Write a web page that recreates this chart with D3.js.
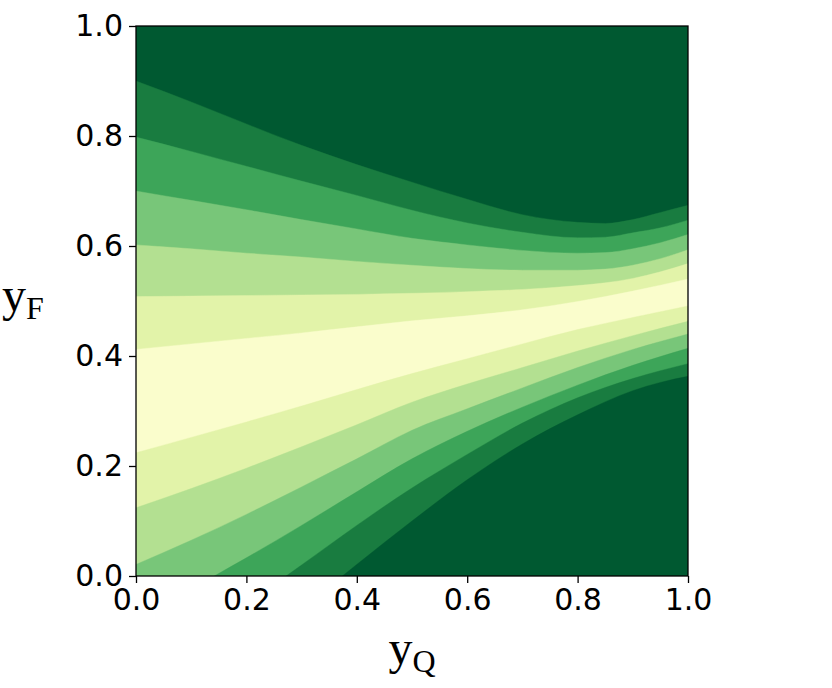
<!DOCTYPE html>
<html><head><meta charset="utf-8">
<script src="https://cdn.jsdelivr.net/npm/d3@7"></script>
<style>body{margin:0;background:#fff}</style>
</head><body>
<script>
// Tick values (both axes)
const tickValues = [0, 0.2, 0.4, 0.6, 0.8, 1.0];
// Band colours from the lightest (centre) to the darkest (YlGn)
const bandColors = ["#fafdcc", "#e2f3a9", "#b3e091", "#78c679", "#3da559", "#197c40", "#005931"];

// Contour boundaries, as [yQ, yF] points.
// Upper side (from top, darkest edge, down to the light centre)
const upperB1 = [[0,0.900],[0.1,0.862],[0.2,0.822],[0.3,0.783],[0.4,0.748],[0.5,0.716],[0.6,0.685],[0.7,0.657],[0.8,0.643],[0.85,0.641],[0.9,0.648],[0.95,0.661],[1.0,0.674]];
const upperB2 = [[0,0.798],[0.1,0.772],[0.2,0.745],[0.3,0.718],[0.4,0.692],[0.5,0.665],[0.6,0.642],[0.7,0.625],[0.8,0.615],[0.85,0.616],[0.9,0.624],[0.95,0.633],[1.0,0.647]];
const upperB3 = [[0,0.700],[0.1,0.683],[0.2,0.666],[0.3,0.648],[0.4,0.631],[0.5,0.614],[0.6,0.602],[0.7,0.592],[0.8,0.587],[0.85,0.588],[0.9,0.595],[0.95,0.606],[1.0,0.621]];
const upperB4 = [[0,0.602],[0.1,0.595],[0.2,0.587],[0.3,0.580],[0.4,0.572],[0.5,0.565],[0.6,0.559],[0.7,0.556],[0.8,0.556],[0.85,0.558],[0.9,0.565],[0.95,0.577],[1.0,0.593]];
const upperB5 = [[0,0.508],[0.1,0.509],[0.2,0.510],[0.3,0.511],[0.4,0.512],[0.5,0.514],[0.6,0.517],[0.7,0.521],[0.8,0.528],[0.85,0.533],[0.9,0.541],[0.95,0.553],[1.0,0.568]];
const upperB6 = [[0,0.412],[0.1,0.422],[0.2,0.432],[0.3,0.442],[0.4,0.453],[0.5,0.464],[0.6,0.473],[0.7,0.484],[0.8,0.499],[0.9,0.518],[1.0,0.540]];
// Lower side (from the light centre down to the darkest edge)
const lowerB7 = [[0,0.224],[0.1,0.252],[0.2,0.280],[0.3,0.309],[0.4,0.339],[0.5,0.368],[0.6,0.395],[0.7,0.422],[0.8,0.448],[0.9,0.470],[1.0,0.491]];
const lowerB8 = [[0,0.124],[0.1,0.159],[0.2,0.196],[0.3,0.235],[0.4,0.275],[0.5,0.316],[0.6,0.349],[0.7,0.379],[0.8,0.409],[0.9,0.437],[1.0,0.463]];
const lowerB9 = [[0,0.021],[0.1,0.065],[0.2,0.112],[0.3,0.162],[0.4,0.213],[0.5,0.265],[0.6,0.304],[0.7,0.342],[0.8,0.379],[0.9,0.412],[1.0,0.440]];
const lowerB10 = [[0.142,0],[0.2,0.033],[0.3,0.092],[0.4,0.153],[0.5,0.213],[0.6,0.263],[0.7,0.307],[0.8,0.347],[0.9,0.383],[1.0,0.414]];
const lowerB11 = [[0.272,0],[0.3,0.020],[0.4,0.092],[0.5,0.160],[0.6,0.221],[0.7,0.278],[0.8,0.324],[0.9,0.359],[1.0,0.386]];
const lowerB12 = [[0.374,0],[0.4,0.021],[0.5,0.100],[0.6,0.175],[0.7,0.240],[0.8,0.293],[0.9,0.337],[0.95,0.352],[1.0,0.363]];

const W = 832, H = 688;
const L = 136, R = 688, T = 26, B = 576;

const svg = d3.select("body").append("svg").attr("width", W).attr("height", H)
  .style("display", "block");

const x = d3.scaleLinear().domain([0, 1]).range([L, R]);
const y = d3.scaleLinear().domain([0, 1]).range([B, T]);

svg.append("defs").append("clipPath").attr("id", "plotclip")
  .append("rect").attr("x", L).attr("y", T).attr("width", R - L).attr("height", B - T);

const g = svg.append("g").attr("clip-path", "url(#plotclip)");

// background: darkest band
g.append("rect").attr("x", L).attr("y", T).attr("width", R - L).attr("height", B - T)
  .attr("fill", bandColors[6]);

const area = d3.area()
  .x(d => x(d[0]))
  .y0(y(0))
  .y1(d => y(d[1]))
  .curve(d3.curveMonotoneX);

// Layers: area below each boundary, painted in order
const layers = [
  [upperB1, 5], [upperB2, 4], [upperB3, 3], [upperB4, 2], [upperB5, 1], [upperB6, 0],
  [lowerB7, 1], [lowerB8, 2], [lowerB9, 3], [lowerB10, 4], [lowerB11, 5], [lowerB12, 6]
];
g.selectAll("path.band").data(layers).join("path")
  .attr("class", "band")
  .attr("d", d => area(d[0]))
  .attr("fill", d => bandColors[d[1]])
  .attr("stroke", d => bandColors[d[1]])
  .attr("stroke-width", 0.4);

// Axes
const fmt = d3.format(".1f");
const xAxis = svg.append("g").attr("transform", `translate(0,${B})`)
  .call(d3.axisBottom(x).tickValues(tickValues).tickFormat(fmt).tickSize(7).tickPadding(5));
const yAxis = svg.append("g").attr("transform", `translate(${L},0)`)
  .call(d3.axisLeft(y).tickValues(tickValues).tickFormat(fmt).tickSize(7).tickPadding(6));

[xAxis, yAxis].forEach(a => {
  a.select(".domain").remove();
  a.selectAll(".tick line").attr("stroke", "#000").attr("stroke-width", 1.3);
  a.selectAll(".tick text").attr("fill", "#000")
    .style("font-family", "'DejaVu Sans', sans-serif").style("font-size", "30px");
});
xAxis.selectAll(".tick text").attr("dy", "0.72em");

// frame
svg.append("rect").attr("x", L).attr("y", T).attr("width", R - L).attr("height", B - T)
  .attr("fill", "none").attr("stroke", "#000").attr("stroke-width", 1.3);

// Axis labels (serif, with subscript)
const xl = svg.append("text").attr("x", (L + R) / 2).attr("y", 664)
  .attr("text-anchor", "middle")
  .style("font-family", "'Liberation Serif', 'DejaVu Serif', serif").style("font-size", "48px").attr("fill", "#000");
xl.append("tspan").text("y");
xl.append("tspan").attr("dy", 8).style("font-size", "32px").text("Q");

const yl = svg.append("text").attr("x", 2).attr("y", 311)
  .style("font-family", "'Liberation Serif', 'DejaVu Serif', serif").style("font-size", "48px").attr("fill", "#000");
yl.append("tspan").text("y");
yl.append("tspan").attr("dy", 8).style("font-size", "32px").text("F");
</script>
</body></html>
